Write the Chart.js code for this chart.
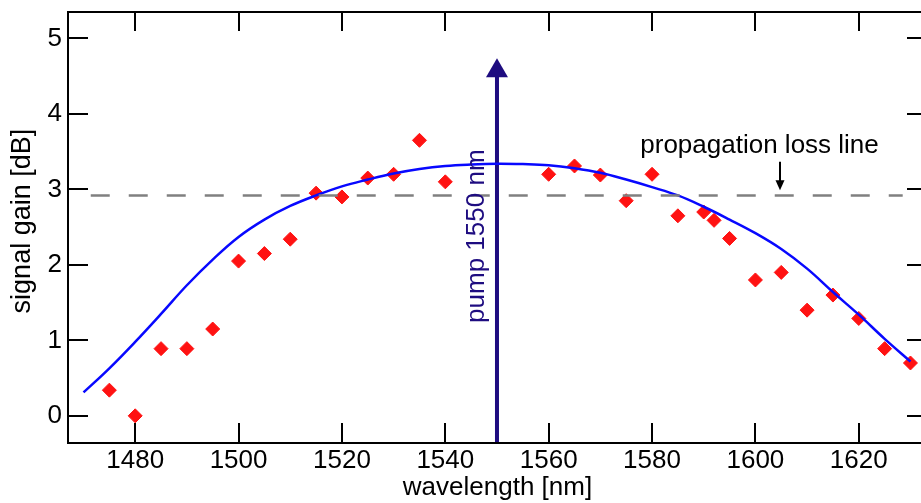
<!DOCTYPE html>
<html>
<head>
<meta charset="utf-8">
<title>signal gain vs wavelength</title>
<script src="https://cdn.jsdelivr.net/npm/chart.js@4.4.1/dist/chart.umd.min.js"></script>
<style>
  html, body { margin: 0; padding: 0; overflow: hidden; background: #fff; }
  #wrap { position: relative; width: 927px; height: 503px; }
</style>
</head>
<body>
<div id="wrap"><canvas id="myChart" width="927" height="503"></canvas></div>
<script>
  'use strict';

  // measured gain (red diamonds)
  const wavelengths = [1475, 1480, 1485, 1490, 1495, 1500, 1505, 1510, 1515, 1520,
                       1525, 1530, 1535, 1540, 1560, 1565, 1570, 1575, 1580, 1585,
                       1590, 1592, 1595, 1600, 1605, 1610, 1615, 1620, 1625, 1630];
  const gain = [0.34, 0.00, 0.89, 0.89, 1.15, 2.05, 2.15, 2.34, 2.95, 2.90,
                3.15, 3.20, 3.65, 3.10, 3.20, 3.31, 3.19, 2.85, 3.20, 2.65,
                2.70, 2.59, 2.35, 1.80, 1.90, 1.40, 1.60, 1.29, 0.89, 0.70];

  // fitted curve (blue line)
  const fitWavelengths = [1470, 1475, 1480, 1485, 1490, 1495, 1500, 1505, 1510, 1515,
                          1520, 1525, 1530, 1535, 1540, 1545, 1550, 1555, 1560, 1565,
                          1570, 1575, 1580, 1585, 1590, 1595, 1600, 1605, 1610, 1615,
                          1620, 1625, 1630];
  const fitGain = [0.31, 0.63, 0.98, 1.35, 1.73, 2.07, 2.37, 2.60, 2.78, 2.92,
                   3.04, 3.13, 3.21, 3.27, 3.31, 3.33, 3.34, 3.335, 3.32, 3.28,
                   3.22, 3.13, 3.03, 2.92, 2.77, 2.60, 2.42, 2.21, 1.95, 1.64,
                   1.34, 1.02, 0.72];

  // propagation loss line (dashed)
  const lossWavelengths = [1471.4, 1628.5];
  const lossGain = [2.92, 2.92];

  // pump marker
  const pumpWavelength = 1550;
  const pumpGain = [-0.36, 4.49];   // shaft from axis up to the head
  const pumpHeadGain = 4.57;        // centre of the arrow head

  // axes
  const xMin = 1467.0, xMax = 1633.2;
  const yMin = -0.36, yMax = 5.35;
  const xTicks = [1480, 1500, 1520, 1540, 1560, 1580, 1600, 1620];
  const yTicks = [0, 1, 2, 3, 4, 5];

  const FONT = "'Liberation Sans', Arial, Helvetica, sans-serif";
  const NAVY = 'rgb(30,12,128)';

  function pts(xs, ys) {
    return xs.map((v, i) => ({x: v, y: ys[i]}));
  }

  // keep the plot box fixed: no extra room for end labels
  function noPadding(s) {
    s.paddingTop = 0; s.paddingBottom = 0;
    s.paddingLeft = 0; s.paddingRight = 0;
  }

  /* frame with inward ticks on all four sides,
   * plus the y title, the two text labels and the little arrow
   */
  const framePlugin = {
    id: 'frame',
    afterDatasetsDraw(chart) {
      const {ctx, chartArea: a} = chart;
      const xs = chart.scales.x, ys = chart.scales.y;
      ctx.save();
      ctx.strokeStyle = '#000';
      ctx.lineWidth = 2;
      ctx.strokeRect(a.left, a.top, a.right - a.left, a.bottom - a.top);

      ctx.beginPath();
      xTicks.forEach(v => {
        const px = Math.round(xs.getPixelForValue(v));
        ctx.moveTo(px, a.bottom); ctx.lineTo(px, a.bottom - 20);
        ctx.moveTo(px, a.top); ctx.lineTo(px, a.top + 19);
      });
      yTicks.forEach(v => {
        const py = Math.round(ys.getPixelForValue(v));
        ctx.moveTo(a.left, py); ctx.lineTo(a.left + 20, py);
        ctx.moveTo(a.right, py); ctx.lineTo(a.right - 20, py);
      });
      ctx.stroke();

      ctx.textAlign = 'center';

      // y axis title
      ctx.fillStyle = '#000';
      ctx.font = '27px ' + FONT;
      ctx.textBaseline = 'middle';
      ctx.translate(23, ys.getPixelForValue(2.58));
      ctx.rotate(-Math.PI / 2);
      ctx.fillText('signal gain [dB]', 0, 0);
      ctx.setTransform(1, 0, 0, 1, 0, 0);

      // pump label, reading upwards, left of the arrow
      ctx.fillStyle = NAVY;
      ctx.font = '26px ' + FONT;
      ctx.textBaseline = 'alphabetic';
      ctx.translate(xs.getPixelForValue(pumpWavelength) - 12.5, ys.getPixelForValue(2.38));
      ctx.rotate(-Math.PI / 2);
      ctx.fillText('pump 1550 nm', 0, 0);
      ctx.setTransform(1, 0, 0, 1, 0, 0);

      // propagation loss label and pointer
      ctx.fillStyle = '#000';
      ctx.fillText('propagation loss line', xs.getPixelForValue(1600.8), ys.getPixelForValue(3.48));
      const ax = Math.round(xs.getPixelForValue(1604.7));
      const ay0 = ys.getPixelForValue(3.365), ay1 = ys.getPixelForValue(2.99);
      ctx.lineWidth = 2;
      ctx.beginPath();
      ctx.moveTo(ax, ay0); ctx.lineTo(ax, ay1 - 6);
      ctx.stroke();
      ctx.beginPath();
      ctx.moveTo(ax - 4.5, ay1 - 10);
      ctx.lineTo(ax + 4.5, ay1 - 10);
      ctx.lineTo(ax, ay1);
      ctx.closePath();
      ctx.fill();
      ctx.restore();
    }
  };

  window.onload = function() {
    const ctx = document.getElementById('myChart').getContext('2d');
    new Chart(ctx, {
      type: 'line',
      data: {
        datasets: [
          {
            label: 'loss',
            data: pts(lossWavelengths, lossGain),
            borderColor: 'rgb(128,128,128)',
            borderWidth: 2.5,
            borderDash: [19, 19],
            pointRadius: 0
          },
          {
            label: 'fit',
            data: pts(fitWavelengths, fitGain),
            borderColor: 'rgb(8,8,255)',
            borderWidth: 2.5,
            tension: 0.4,
            pointRadius: 0
          },
          {
            label: 'pump',
            data: pts([pumpWavelength, pumpWavelength], pumpGain),
            borderColor: NAVY,
            borderWidth: 4,
            pointRadius: 0
          },
          {
            label: 'pump head',
            data: pts([pumpWavelength], [pumpHeadGain]),
            showLine: false,
            pointStyle: 'triangle',
            pointRadius: 12.7,
            pointBorderWidth: 0,
            pointBackgroundColor: NAVY,
            pointBorderColor: NAVY
          },
          {
            label: 'gain',
            data: pts(wavelengths, gain),
            showLine: false,
            pointStyle: 'rectRot',
            pointRadius: 7,
            pointBorderWidth: 1,
            pointBackgroundColor: 'rgb(255,18,18)',
            pointBorderColor: 'rgb(255,18,18)'
          }
        ]
      },
      options: {
        responsive: false,
        animation: false,
        events: [],
        layout: { autoPadding: false, padding: { top: 12, right: 0, bottom: 0, left: 0 } },
        plugins: { legend: { display: false }, tooltip: { enabled: false } },
        scales: {
          x: {
            type: 'linear',
            min: xMin, max: xMax,
            grid: { display: false, drawTicks: false },
            border: { display: false },
            afterBuildTicks: (s) => { s.ticks = xTicks.map(v => ({value: v})); },
            afterFit: (s) => { s.height = 60; noPadding(s); },
            ticks: {
              color: '#000', padding: 2, maxRotation: 0,
              callback: (v) => String(v),
              font: { family: FONT, size: 26, lineHeight: 1.2 }
            },
            title: {
              display: true, text: 'wavelength [nm]', color: '#000',
              padding: { top: 0, bottom: 0 },
              font: { family: FONT, size: 26, lineHeight: 1.2 }
            }
          },
          y: {
            type: 'linear',
            min: yMin, max: yMax,
            grid: { display: false, drawTicks: false },
            border: { display: false },
            afterBuildTicks: (s) => { s.ticks = yTicks.map(v => ({value: v})); },
            afterFit: (s) => { s.width = 68; noPadding(s); },
            ticks: {
              color: '#000', padding: 6,
              callback: (v) => String(v),
              font: { family: FONT, size: 26, lineHeight: 1.2 }
            },
            title: { display: false }
          }
        }
      },
      plugins: [framePlugin]
    });
  };
</script>
</body>
</html>
